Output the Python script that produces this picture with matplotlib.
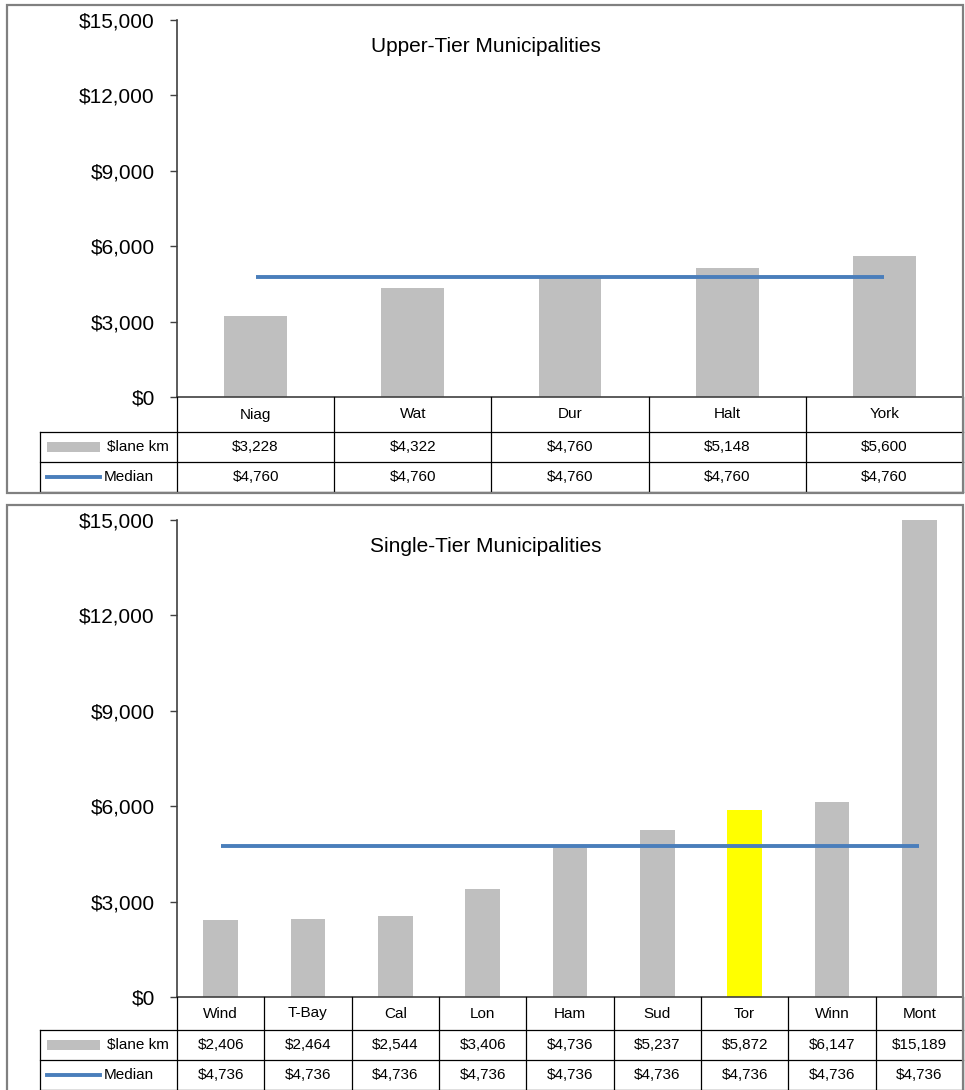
import matplotlib.pyplot as plt
from matplotlib.patches import Rectangle
from matplotlib.lines import Line2D
from matplotlib.ticker import FuncFormatter

W, H = 965, 1090
plt.rcParams["font.family"] = ["Liberation Sans", "DejaVu Sans"]

# cost per lane km, upper-tier municipalities
upper_cats = ["Niag", "Wat", "Dur", "Halt", "York"]
upper_cost = [3228, 4322, 4760, 5148, 5600]
upper_median = [4760, 4760, 4760, 4760, 4760]

# cost per lane km, single-tier municipalities
single_cats = ["Wind", "T-Bay", "Cal", "Lon", "Ham", "Sud", "Tor", "Winn", "Mont"]
single_cost = [2406, 2464, 2544, 3406, 4736, 5237, 5872, 6147, 15189]
single_median = [4736, 4736, 4736, 4736, 4736, 4736, 4736, 4736, 4736]

yticks = [0, 3000, 6000, 9000, 12000, 15000]

BAR_C = "#BFBFBF"
MED_C = "#4A7EBB"
HI_C = "#FFFF00"
FRAME_C = "#808080"
AXIS_C = "#404040"

fig = plt.figure(figsize=(W / 100, H / 100), dpi=100)


def fx(px):
    return px / W


def fy(py):
    return 1 - py / H


def money(v):
    return f"${v:,.0f}"


def panel(frame, plot_top, rows, cats, costs, medians, title, highlight=None):
    y0, y1 = frame
    fig.patches.append(Rectangle((fx(7), fy(y1)), fx(956), (y1 - y0) / H,
                                 transform=fig.transFigure, fill=False,
                                 ec=FRAME_C, lw=1.6))

    x_left, x_right = 177, 963
    plot_bot = rows[0]
    n = len(cats)
    xs = list(range(n))

    ax = fig.add_axes([fx(x_left), fy(plot_bot), fx(x_right - x_left),
                       (plot_bot - plot_top) / H])
    colors = [HI_C if c == highlight else BAR_C for c in cats]
    ax.bar(xs, costs, width=0.4, color=colors, zorder=2)
    ax.plot(xs, medians, color=MED_C, lw=2.8, zorder=3, solid_capstyle="butt")
    ax.set_xlim(-0.5, n - 0.5)
    ax.set_ylim(yticks[0], yticks[-1])
    ax.set_yticks(yticks)
    ax.yaxis.set_major_formatter(FuncFormatter(lambda v, p: money(v)))
    ax.tick_params(axis="y", labelsize=15, length=5, width=1, pad=11,
                   color=AXIS_C, labelcolor="black")
    ax.tick_params(axis="x", bottom=False, labelbottom=False)
    for s in ["top", "right"]:
        ax.spines[s].set_visible(False)
    for s in ["left", "bottom"]:
        ax.spines[s].set_color(AXIS_C)
        ax.spines[s].set_linewidth(1.2)

    fig.text(fx(486), fy(plot_top + 26), title, ha="center", va="center",
             fontsize=15)

    # data table under the plot, columns aligned with the bars
    colw = (x_right - x_left) / n
    leg_left = -0.5 - (x_left - 40) / colw
    tab = fig.add_axes([fx(40), fy(rows[-1]), fx(x_right - 40),
                        (rows[-1] - rows[0]) / H])
    tab.set_xlim(leg_left, n - 0.5)
    tab.set_ylim(rows[-1], rows[0])
    tab.axis("off")

    lk = dict(color="black", lw=0.9, clip_on=False)
    for r in rows[1:]:
        tab.add_line(Line2D([leg_left, n - 0.5], [r, r], **lk))
    for k in range(n + 1):
        tab.add_line(Line2D([k - 0.5, k - 0.5], [rows[0], rows[-1]], **lk))
    tab.add_line(Line2D([leg_left, leg_left], [rows[1], rows[-1]], **lk))

    mid = [(rows[i] + rows[i + 1]) / 2 for i in range(3)]
    for i, c in enumerate(cats):
        tab.text(i, mid[0], c, ha="center", va="center", fontsize=11)
        tab.text(i, mid[1], money(costs[i]), ha="center", va="center", fontsize=11)
        tab.text(i, mid[2], money(medians[i]), ha="center", va="center", fontsize=11)

    # legend keys in the first column
    px = 1 / colw
    kx0 = leg_left + 7 * px
    kx1 = leg_left + 60 * px
    tab.add_patch(Rectangle((kx0, mid[1] - 5), kx1 - kx0, 10, color=BAR_C, lw=0))
    tab.text(leg_left + 129 * px, mid[1], "$lane km", ha="right", va="center",
             fontsize=11)
    tab.add_line(Line2D([kx0, kx1], [mid[2], mid[2]], color=MED_C, lw=2.8))
    tab.text(leg_left + 64 * px, mid[2], "Median", ha="left", va="center",
             fontsize=11)


panel((5, 493), 20, [397, 432, 462, 492], upper_cats, upper_cost,
      upper_median, "Upper-Tier Municipalities")
panel((505, 1100), 520, [997, 1030, 1060, 1090], single_cats, single_cost,
      single_median, "Single-Tier Municipalities", highlight="Tor")

fig.savefig("out.png", dpi=100)
